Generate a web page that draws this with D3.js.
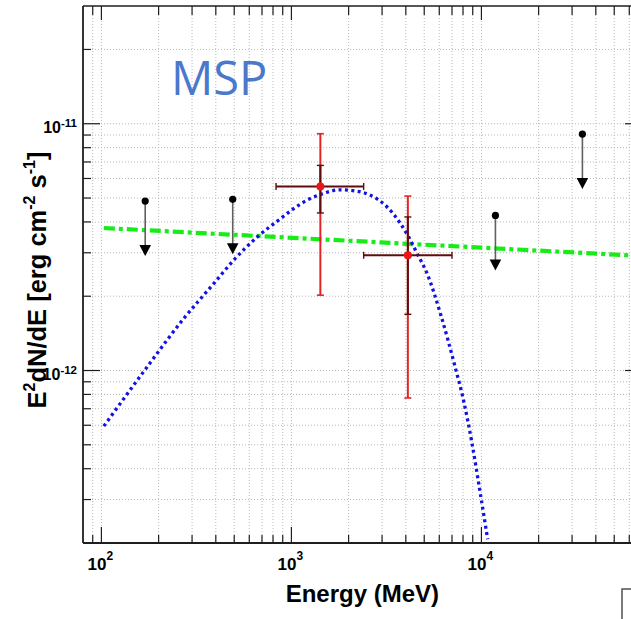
<!DOCTYPE html>
<html>
<head>
<meta charset="utf-8">
<script src="https://cdn.jsdelivr.net/npm/d3@7"></script>
<style>
  html, body { margin: 0; padding: 0; background: #fff; }
  svg { display: block; }
</style>
</head>
<body>
<svg id="chart" width="631" height="619"></svg>
<script>
// ---- data: energies in MeV, fluxes as E^2 dN/dE in erg cm^-2 s^-1 ----

// detected bins
const detEnergy  = [1420, 4100];
const detEmin    = [830, 2400];
const detEmax    = [2400, 7000];
const detFlux    = [5.57e-12, 2.93e-12];
const detStatLo  = [4.35e-12, 1.69e-12];
const detStatHi  = [6.78e-12, 4.19e-12];
const detTotLo   = [2.02e-12, 7.74e-13];
const detTotHi   = [9.11e-12, 5.09e-12];

// upper limits
const ulEnergy = [170, 491, 11850, 34000];
const ulFlux   = [4.86e-12, 4.94e-12, 4.25e-12, 9.08e-12];

// power-law model (straight in log-log, endpoints)
const plEnergy = [103, 100000];
const plFlux   = [3.78e-12, 2.87e-12];

// pulsar-like cutoff model, sampled along the curve
const mspEnergy = [103, 174, 271, 390, 497, 660, 875, 1028, 1233, 1421, 1811, 2217,
                   2605, 3189, 3748, 4145, 4587, 5179, 6084, 7298, 8070, 8935,
                   9880, 10790];
const mspFlux   = [5.95e-13, 1.034e-12, 1.623e-12, 2.25e-12, 2.80e-12, 3.475e-12,
                   4.12e-12, 4.53e-12, 4.94e-12, 5.17e-12, 5.40e-12, 5.33e-12,
                   5.13e-12, 4.60e-12, 3.94e-12, 3.47e-12, 2.98e-12, 2.47e-12,
                   1.70e-12, 1.022e-12, 7.51e-13, 5.03e-13, 3.155e-13, 2.07e-13];

// axis ranges and labelled decades
const xDomain = [80, 70000];
const yDomain = [2e-13, 3e-11];
const xLabelExp = [2, 3, 4];
const yLabelExp = [-11, -12];

const xTitle = "Energy (MeV)";
const panelName = "MSP";

// ---- layout ----
const svg = d3.select("#chart");
const L = 83, R = 642, T = 6, B = 543;

const x = d3.scaleLog().domain(xDomain).range([L, R]);
const y = d3.scaleLog().domain(yDomain).range([B, T]);

svg.append("rect").attr("width", 631).attr("height", 619).attr("fill", "#fff");

svg.append("defs").append("clipPath").attr("id", "plotclip")
  .append("rect").attr("x", L).attr("y", T).attr("width", R - L).attr("height", B - T);

// ---- grid ----
const xt = x.ticks().filter(v => x(v) > L + 0.5 && x(v) < R - 0.5);
const yt = y.ticks().filter(v => y(v) > T + 0.5 && y(v) < B - 0.5);
const isDecade = v => Math.abs(Math.log10(v) - Math.round(Math.log10(v))) < 1e-6;

const grid = svg.append("g").attr("stroke", "#b9b9b9").attr("stroke-width", 1)
  .attr("stroke-dasharray", "1,2");
grid.selectAll("line.gx").data(xt).join("line").attr("class", "gx")
  .attr("x1", d => x(d)).attr("x2", d => x(d)).attr("y1", T).attr("y2", B);
grid.selectAll("line.gy").data(yt).join("line").attr("class", "gy")
  .attr("x1", L).attr("x2", R).attr("y1", d => y(d)).attr("y2", d => y(d));

// ---- model curves ----
const plot = svg.append("g").attr("clip-path", "url(#plotclip)");

const line = d3.line().x(d => x(d[0])).y(d => y(d[1]));

plot.append("path")
  .datum(d3.zip(plEnergy, plFlux))
  .attr("d", line)
  .attr("fill", "none").attr("stroke", "#18ec18").attr("stroke-width", 4.2)
  .attr("stroke-dasharray", "11,4,4,4");

plot.append("path")
  .datum(d3.zip(mspEnergy, mspFlux))
  .attr("d", line.curve(d3.curveMonotoneX))
  .attr("fill", "none").attr("stroke", "#1212e2").attr("stroke-width", 3.3)
  .attr("stroke-dasharray", "3,3.4");

// ---- upper limits ----
const ul = plot.append("g");
ulEnergy.forEach((e, i) => {
  const cx = x(e), cy = y(ulFlux[i]);
  ul.append("line").attr("x1", cx).attr("x2", cx).attr("y1", cy).attr("y2", cy + 45)
    .attr("stroke", "#606060").attr("stroke-width", 1.6);
  ul.append("path")
    .attr("d", `M${cx - 5.8},${cy + 44} L${cx + 5.8},${cy + 44} L${cx},${cy + 55} Z`)
    .attr("fill", "#000");
  ul.append("circle").attr("cx", cx).attr("cy", cy).attr("r", 3.6).attr("fill", "#000");
});

// ---- detected points with stat (dark) and total (red) errors ----
const det = plot.append("g");
const dark = "#5e0c0c", red = "#e42424", cap = 3.5;
detEnergy.forEach((e, i) => {
  const cx = x(e), cy = y(detFlux[i]);
  // total error bar
  det.append("line").attr("x1", cx).attr("x2", cx)
    .attr("y1", y(detTotHi[i])).attr("y2", y(detTotLo[i]))
    .attr("stroke", red).attr("stroke-width", 2);
  [detTotHi[i], detTotLo[i]].forEach(v => det.append("line")
    .attr("x1", cx - cap).attr("x2", cx + cap).attr("y1", y(v)).attr("y2", y(v))
    .attr("stroke", red).attr("stroke-width", 1.6));
  // statistical error bar
  det.append("line").attr("x1", cx).attr("x2", cx)
    .attr("y1", y(detStatHi[i])).attr("y2", y(detStatLo[i]))
    .attr("stroke", dark).attr("stroke-width", 2);
  [detStatHi[i], detStatLo[i]].forEach(v => det.append("line")
    .attr("x1", cx - cap).attr("x2", cx + cap).attr("y1", y(v)).attr("y2", y(v))
    .attr("stroke", dark).attr("stroke-width", 1.4));
  // energy bin
  det.append("line").attr("x1", x(detEmin[i])).attr("x2", x(detEmax[i]))
    .attr("y1", cy).attr("y2", cy).attr("stroke", dark).attr("stroke-width", 2);
  [detEmin[i], detEmax[i]].forEach(v => det.append("line")
    .attr("x1", x(v)).attr("x2", x(v)).attr("y1", cy - cap).attr("y2", cy + cap)
    .attr("stroke", dark).attr("stroke-width", 1.4));
  det.append("circle").attr("cx", cx).attr("cy", cy).attr("r", 4).attr("fill", "#ee1515");
});

// ---- frame and ticks ----
const axisCol = "#1e1e1e";
const frame = svg.append("g").attr("stroke", axisCol);
frame.append("line").attr("x1", L).attr("x2", L).attr("y1", T).attr("y2", B).attr("stroke-width", 1.8);
frame.append("line").attr("x1", L).attr("x2", R).attr("y1", B).attr("y2", B).attr("stroke-width", 1.8);
frame.append("line").attr("x1", L).attr("x2", R).attr("y1", T).attr("y2", T).attr("stroke-width", 1.5);
frame.append("line").attr("x1", R).attr("x2", R).attr("y1", T).attr("y2", B).attr("stroke-width", 1.5);

const tk = svg.append("g").attr("stroke", axisCol).attr("stroke-width", 1.2);
xt.forEach(v => {
  const big = isDecade(v);
  tk.append("line").attr("x1", x(v)).attr("x2", x(v)).attr("y1", B).attr("y2", B - (big ? 16 : 8));
  tk.append("line").attr("x1", x(v)).attr("x2", x(v)).attr("y1", T).attr("y2", T + (big ? 14 : 9));
});
yt.forEach(v => {
  const big = isDecade(v);
  tk.append("line").attr("x1", L).attr("x2", L + (big ? 17 : 8)).attr("y1", y(v)).attr("y2", y(v));
  tk.append("line").attr("x1", R).attr("x2", R - (big ? 17 : 8)).attr("y1", y(v)).attr("y2", y(v));
});

// ---- tick labels ----
const lab = svg.append("g").attr("font-family", "'Liberation Sans', Arial, sans-serif")
  .attr("font-weight", "bold").attr("fill", "#000");

xLabelExp.forEach(p => {
  const t = lab.append("text").attr("x", x(Math.pow(10, p)) - 1).attr("y", 569.5)
    .attr("text-anchor", "middle").attr("font-size", 17);
  t.append("tspan").text("10");
  t.append("tspan").attr("dy", -9.5).attr("font-size", 12).text(p);
});

yLabelExp.forEach(p => {
  const t = lab.append("text").attr("x", 77).attr("y", y(Math.pow(10, p)) + 9)
    .attr("text-anchor", "end").attr("font-size", 16);
  t.append("tspan").text("10");
  t.append("tspan").attr("dy", -5.5).attr("font-size", 11.5).text(p);
});

// ---- axis titles ----
lab.append("text").attr("x", 439).attr("y", 602).attr("text-anchor", "end")
  .attr("font-size", 24).text(xTitle);

const yt2 = lab.append("text").attr("transform", "translate(46,280) rotate(-90)")
  .attr("text-anchor", "middle").attr("font-size", 25.5);
yt2.append("tspan").text("E");
yt2.append("tspan").attr("dy", -11).attr("font-size", 16).text("2");
yt2.append("tspan").attr("dy", 11).text("dN/dE [erg cm");
yt2.append("tspan").attr("dy", -11).attr("font-size", 16).text("-2");
yt2.append("tspan").attr("dy", 11).text(" s");
yt2.append("tspan").attr("dy", -11).attr("font-size", 16).text("-1");
yt2.append("tspan").attr("dy", 11).text("]");

// ---- panel name ----
svg.append("text").attr("x", 171).attr("y", 95)
  .attr("font-family", "'Open Sans', 'Noto Sans', sans-serif")
  .attr("font-size", 47).attr("fill", "#4a78cc").text(panelName);

// neighbouring frame corner at the bottom edge
svg.append("rect").attr("x", 622).attr("y", 589).attr("width", 40).attr("height", 60)
  .attr("fill", "#fff").attr("stroke", "#444").attr("stroke-width", 1.4);
</script>
</body>
</html>
